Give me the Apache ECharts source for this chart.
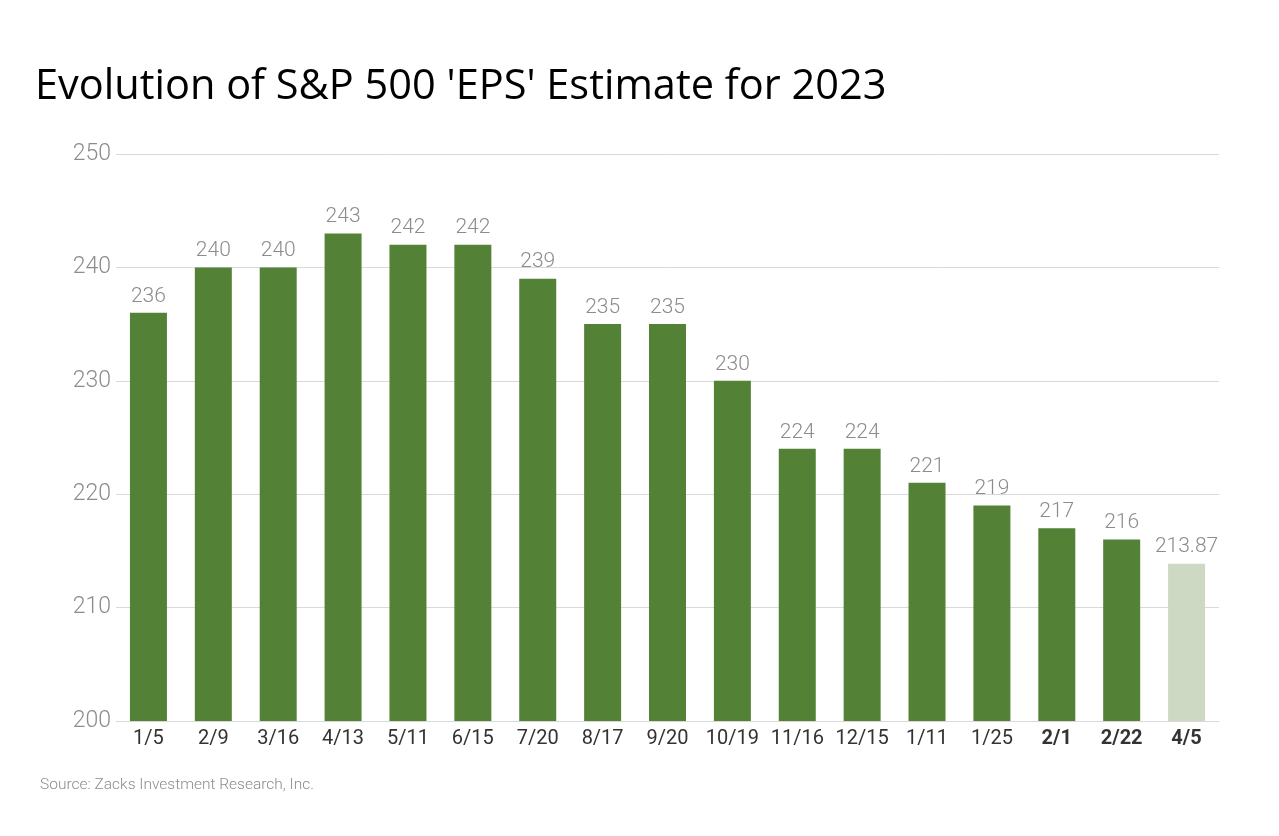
<!DOCTYPE html>
<html>
<head>
<meta charset="utf-8">
<script src="https://cdn.jsdelivr.net/npm/echarts@6/dist/echarts.min.js"></script>
<style>
html, body { margin: 0; padding: 0; background: #fff; }
#main-chart { width: 1279px; height: 836px; }
</style>
</head>
<body>
<div id="main-chart"></div>
<script>
// 日期
var categories = ['1/5', '2/9', '3/16', '4/13', '5/11', '6/15', '7/20', '8/17', '9/20',
	'10/19', '11/16', '12/15', '1/11', '1/25', '2/1', '2/22', '4/5'];
// EPS 估值
var epsValues = [236, 240, 240, 243, 242, 242, 239, 235, 235, 230, 224, 224, 221, 219, 217, 216, 213.87];
// 加粗的标签
var boldLabels = ['2/1', '2/22', '4/5'];
var yTicks = [200, 210, 220, 230, 240, 250];

var labelFont = 'Roboto, sans-serif';

var seriesData = [];
for (var i = 0; i < epsValues.length; i++) {
	var item = { value: epsValues[i] };
	if (i == epsValues.length - 1) {
		item.itemStyle = { color: '#cdd9c3' };
	}
	seriesData.push(item);
}

var myChart = echarts.init(document.getElementById('main-chart'));

var option = {
	animation: false,
	title: [{
		text: "Evolution of S&P 500 'EPS' Estimate for 2023",
		left: 30,
		top: 61,
		textStyle: {
			fontFamily: '"Open Sans", sans-serif',
			fontSize: 41.5,
			fontWeight: 'normal',
			color: '#000'
		}
	}, {
		text: 'Source: Zacks Investment Research, Inc.',
		left: 35,
		top: 772,
		textStyle: {
			fontFamily: labelFont,
			fontSize: 15.5,
			fontWeight: 300,
			color: '#8c8c8c'
		}
	}],
	grid: {
		left: 116,
		right: 60,
		top: 154,
		bottom: 115,
		containLabel: false
	},
	xAxis: {
		type: 'category',
		data: categories,
		axisLine: { lineStyle: { color: '#d9d9d9', width: 1 } },
		axisTick: { show: false },
		axisLabel: {
			interval: 0,
			margin: 8,
			fontFamily: labelFont,
			fontSize: 20,
			color: '#333',
			formatter: function (value) {
				if (boldLabels.indexOf(value) >= 0) {
					return '{b|' + value + '}';
				}
				return value;
			},
			rich: {
				b: {
					fontFamily: labelFont,
					fontSize: 20,
					fontWeight: 'bold',
					color: '#333'
				}
			}
		}
	},
	yAxis: {
		type: 'value',
		min: yTicks[0],
		max: yTicks[yTicks.length - 1],
		interval: 10,
		axisLine: { show: false },
		axisTick: { show: false },
		splitLine: { lineStyle: { color: '#d9d9d9', width: 1 } },
		axisLabel: {
			margin: 5,
			fontFamily: labelFont,
			fontSize: 23,
			fontWeight: 300,
			color: '#8c8c8c'
		}
	},
	series: [{
		type: 'bar',
		data: seriesData,
		barWidth: '57%',
		itemStyle: { color: '#538135' },
		label: {
			show: true,
			position: 'top',
			distance: 6,
			fontFamily: labelFont,
			fontSize: 21,
			fontWeight: 300,
			color: '#8c8c8c'
		}
	}]
};

myChart.setOption(option);
</script>
</body>
</html>
